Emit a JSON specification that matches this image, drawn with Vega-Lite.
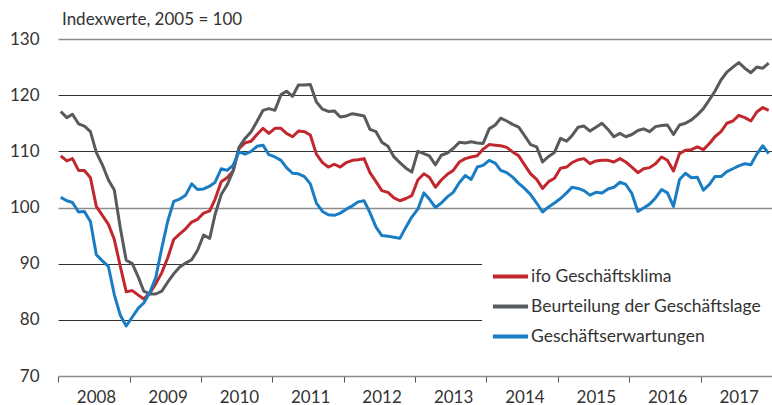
{
  "$schema": "https://vega.github.io/schema/vega-lite/v6.json",
  "width": 714,
  "height": 337,
  "autosize": {"type": "none"},
  "padding": {"left": 58, "top": 39, "right": 0, "bottom": 29},
  "background": "white",
  "config": {"view": {"stroke": null}, "font": "Lato"},
  "title": {"text": "Indexwerte, 2005 = 100", "anchor": "start", "frame": "group", "fontSize": 17, "fontWeight": "normal", "font": "Lato", "color": "#333333", "offset": 1, "dx": 4, "baseline": "top"},
  "data": {"values": [
    {"m":"2008-01-15","k":109.2,"l":117.1,"e":101.8},
    {"m":"2008-02-15","k":108.3,"l":116.0,"e":101.2},
    {"m":"2008-03-15","k":108.7,"l":116.6,"e":100.9},
    {"m":"2008-04-15","k":106.6,"l":114.9,"e":99.2},
    {"m":"2008-05-15","k":106.6,"l":114.5,"e":99.3},
    {"m":"2008-06-15","k":105.3,"l":113.5,"e":97.5},
    {"m":"2008-07-15","k":100.2,"l":109.8,"e":91.6},
    {"m":"2008-08-15","k":98.6,"l":107.6,"e":90.5},
    {"m":"2008-09-15","k":97.0,"l":104.9,"e":89.5},
    {"m":"2008-10-15","k":94.3,"l":103.1,"e":84.5},
    {"m":"2008-11-15","k":89.5,"l":96.3,"e":80.8},
    {"m":"2008-12-15","k":85.0,"l":90.6,"e":78.9},
    {"m":"2009-01-15","k":85.2,"l":90.0,"e":80.5},
    {"m":"2009-02-15","k":84.4,"l":87.6,"e":82.1},
    {"m":"2009-03-15","k":83.7,"l":85.1,"e":83.0},
    {"m":"2009-04-15","k":84.8,"l":84.6,"e":84.9},
    {"m":"2009-05-15","k":86.4,"l":84.6,"e":87.5},
    {"m":"2009-06-15","k":88.4,"l":85.1,"e":92.8},
    {"m":"2009-07-15","k":91.0,"l":86.7,"e":97.5},
    {"m":"2009-08-15","k":94.3,"l":88.2,"e":101.1},
    {"m":"2009-09-15","k":95.3,"l":89.4,"e":101.5},
    {"m":"2009-10-15","k":96.2,"l":90.1,"e":102.2},
    {"m":"2009-11-15","k":97.4,"l":90.7,"e":104.2},
    {"m":"2009-12-15","k":97.9,"l":92.4,"e":103.2},
    {"m":"2010-01-15","k":99.0,"l":95.1,"e":103.3},
    {"m":"2010-02-15","k":99.4,"l":94.5,"e":103.8},
    {"m":"2010-03-15","k":101.5,"l":98.8,"e":104.5},
    {"m":"2010-04-15","k":104.6,"l":102.3,"e":106.9},
    {"m":"2010-05-15","k":105.3,"l":104.0,"e":106.6},
    {"m":"2010-06-15","k":106.5,"l":106.5,"e":107.5},
    {"m":"2010-07-15","k":110.5,"l":110.7,"e":109.9},
    {"m":"2010-08-15","k":111.5,"l":112.3,"e":109.5},
    {"m":"2010-09-15","k":111.8,"l":113.5,"e":110.0},
    {"m":"2010-10-15","k":113.0,"l":115.3,"e":110.9},
    {"m":"2010-11-15","k":114.1,"l":117.3,"e":111.1},
    {"m":"2010-12-15","k":113.2,"l":117.6,"e":109.4},
    {"m":"2011-01-15","k":114.1,"l":117.3,"e":109.0},
    {"m":"2011-02-15","k":114.1,"l":120.1,"e":108.4},
    {"m":"2011-03-15","k":113.2,"l":120.7,"e":107.1},
    {"m":"2011-04-15","k":112.6,"l":119.8,"e":106.1},
    {"m":"2011-05-15","k":113.6,"l":121.8,"e":106.0},
    {"m":"2011-06-15","k":113.5,"l":121.8,"e":105.5},
    {"m":"2011-07-15","k":112.9,"l":121.9,"e":104.2},
    {"m":"2011-08-15","k":109.5,"l":118.8,"e":100.8},
    {"m":"2011-09-15","k":108.0,"l":117.5,"e":99.3},
    {"m":"2011-10-15","k":107.2,"l":117.1,"e":98.7},
    {"m":"2011-11-15","k":107.7,"l":117.2,"e":98.6},
    {"m":"2011-12-15","k":107.2,"l":116.1,"e":99.0},
    {"m":"2012-01-15","k":108.0,"l":116.3,"e":99.7},
    {"m":"2012-02-15","k":108.4,"l":116.7,"e":100.3},
    {"m":"2012-03-15","k":108.5,"l":116.5,"e":101.0},
    {"m":"2012-04-15","k":108.7,"l":116.3,"e":101.2},
    {"m":"2012-05-15","k":106.2,"l":113.9,"e":99.1},
    {"m":"2012-06-15","k":104.6,"l":113.5,"e":96.5},
    {"m":"2012-07-15","k":103.0,"l":111.6,"e":95.0},
    {"m":"2012-08-15","k":102.7,"l":110.9,"e":94.9},
    {"m":"2012-09-15","k":101.7,"l":109.0,"e":94.7},
    {"m":"2012-10-15","k":101.2,"l":108.0,"e":94.5},
    {"m":"2012-11-15","k":101.6,"l":107.0,"e":96.5},
    {"m":"2012-12-15","k":102.1,"l":106.3,"e":98.3},
    {"m":"2013-01-15","k":104.9,"l":110.0,"e":99.7},
    {"m":"2013-02-15","k":106.0,"l":109.6,"e":102.6},
    {"m":"2013-03-15","k":105.4,"l":109.2,"e":101.5},
    {"m":"2013-04-15","k":103.6,"l":107.6,"e":100.0},
    {"m":"2013-05-15","k":104.9,"l":109.3,"e":100.8},
    {"m":"2013-06-15","k":105.9,"l":109.7,"e":101.9},
    {"m":"2013-07-15","k":106.6,"l":110.5,"e":102.7},
    {"m":"2013-08-15","k":108.1,"l":111.6,"e":104.4},
    {"m":"2013-09-15","k":108.7,"l":111.5,"e":105.7},
    {"m":"2013-10-15","k":109.0,"l":111.7,"e":105.0},
    {"m":"2013-11-15","k":109.2,"l":111.5,"e":107.2},
    {"m":"2013-12-15","k":110.4,"l":111.4,"e":107.5},
    {"m":"2014-01-15","k":111.2,"l":114.0,"e":108.4},
    {"m":"2014-02-15","k":111.1,"l":114.7,"e":107.9},
    {"m":"2014-03-15","k":111.0,"l":115.9,"e":106.6},
    {"m":"2014-04-15","k":110.7,"l":115.4,"e":106.2},
    {"m":"2014-05-15","k":109.9,"l":114.8,"e":105.4},
    {"m":"2014-06-15","k":109.2,"l":114.3,"e":104.3},
    {"m":"2014-07-15","k":107.6,"l":112.8,"e":103.4},
    {"m":"2014-08-15","k":106.0,"l":111.2,"e":102.3},
    {"m":"2014-09-15","k":105.0,"l":110.8,"e":100.8},
    {"m":"2014-10-15","k":103.4,"l":108.1,"e":99.2},
    {"m":"2014-11-15","k":104.6,"l":109.1,"e":100.1},
    {"m":"2014-12-15","k":105.2,"l":109.8,"e":100.8},
    {"m":"2015-01-15","k":107.0,"l":112.3,"e":101.6},
    {"m":"2015-02-15","k":107.2,"l":111.8,"e":102.6},
    {"m":"2015-03-15","k":108.0,"l":112.8,"e":103.6},
    {"m":"2015-04-15","k":108.5,"l":114.3,"e":103.4},
    {"m":"2015-05-15","k":108.7,"l":114.5,"e":103.0},
    {"m":"2015-06-15","k":107.8,"l":113.6,"e":102.2},
    {"m":"2015-07-15","k":108.3,"l":114.3,"e":102.7},
    {"m":"2015-08-15","k":108.4,"l":115.0,"e":102.6},
    {"m":"2015-09-15","k":108.4,"l":113.9,"e":103.3},
    {"m":"2015-10-15","k":108.1,"l":112.6,"e":103.6},
    {"m":"2015-11-15","k":108.7,"l":113.2,"e":104.5},
    {"m":"2015-12-15","k":108.1,"l":112.6,"e":104.1},
    {"m":"2016-01-15","k":107.2,"l":113.0,"e":102.5},
    {"m":"2016-02-15","k":106.2,"l":113.7,"e":99.3},
    {"m":"2016-03-15","k":106.9,"l":114.0,"e":99.9},
    {"m":"2016-04-15","k":107.1,"l":113.5,"e":100.6},
    {"m":"2016-05-15","k":107.8,"l":114.4,"e":101.7},
    {"m":"2016-06-15","k":109.0,"l":114.6,"e":103.2},
    {"m":"2016-07-15","k":108.4,"l":114.7,"e":102.6},
    {"m":"2016-08-15","k":106.5,"l":113.0,"e":100.2},
    {"m":"2016-09-15","k":109.6,"l":114.7,"e":105.0},
    {"m":"2016-10-15","k":110.2,"l":115.0,"e":106.1},
    {"m":"2016-11-15","k":110.3,"l":115.6,"e":105.3},
    {"m":"2016-12-15","k":110.8,"l":116.5,"e":105.4},
    {"m":"2017-01-15","k":110.3,"l":117.6,"e":103.1},
    {"m":"2017-02-15","k":111.4,"l":119.2,"e":104.1},
    {"m":"2017-03-15","k":112.6,"l":120.7,"e":105.5},
    {"m":"2017-04-15","k":113.5,"l":122.7,"e":105.5},
    {"m":"2017-05-15","k":115.0,"l":124.1,"e":106.4},
    {"m":"2017-06-15","k":115.4,"l":125.0,"e":106.9},
    {"m":"2017-07-15","k":116.4,"l":125.8,"e":107.4},
    {"m":"2017-08-15","k":116.0,"l":124.8,"e":107.8},
    {"m":"2017-09-15","k":115.4,"l":124.0,"e":107.6},
    {"m":"2017-10-15","k":117.0,"l":125.0,"e":109.5},
    {"m":"2017-11-15","k":117.8,"l":124.8,"e":111.0},
    {"m":"2017-12-15","k":117.3,"l":125.7,"e":109.6}
  ]},
  "transform": [{"fold": ["k", "l", "e"], "as": ["key", "v"]}],
  "mark": {"type": "line", "strokeWidth": 3, "strokeJoin": "round", "clip": false},
  "encoding": {
    "x": {
      "field": "m", "type": "temporal",
      "scale": {"type": "utc", "domain": [{"year": 2008, "month": 1, "date": 1, "utc": true}, {"year": 2018, "month": 1, "date": 1, "utc": true}]},
      "axis": {
        "title": null, "grid": false,
        "values": [
          {"year": 2008, "month": 1, "date": 1, "utc": true},
          {"year": 2009, "month": 1, "date": 1, "utc": true},
          {"year": 2010, "month": 1, "date": 1, "utc": true},
          {"year": 2011, "month": 1, "date": 1, "utc": true},
          {"year": 2012, "month": 1, "date": 1, "utc": true},
          {"year": 2013, "month": 1, "date": 1, "utc": true},
          {"year": 2014, "month": 1, "date": 1, "utc": true},
          {"year": 2015, "month": 1, "date": 1, "utc": true},
          {"year": 2016, "month": 1, "date": 1, "utc": true},
          {"year": 2017, "month": 1, "date": 1, "utc": true}
        ],
        "format": "%Y", "formatType": "utc",
        "labelOffset": 38, "labelAlign": "center", "labelFontSize": 17, "labelFont": "Lato", "labelColor": "#333333", "labelPadding": 7,
        "labelFlush": false, "labelOverlap": false,
        "domainColor": "#8c8c8c", "domainWidth": 1.5,
        "tickColor": "#555555", "tickSize": 6, "tickWidth": 1
      }
    },
    "y": {
      "field": "v", "type": "quantitative",
      "scale": {"domain": [70, 130], "nice": false, "zero": false},
      "axis": {
        "title": null, "values": [70, 80, 90, 100, 110, 120, 130],
        "domain": false, "ticks": false,
        "labelFontSize": 17, "labelFont": "Lato", "labelColor": "#333333", "labelPadding": 19,
        "grid": true,
        "gridColor": {"condition": {"test": "datum.value === 100 || datum.value === 130", "value": "#8c8c8c"}, "value": "#333333"},
        "gridWidth": {"condition": {"test": "datum.value === 100 || datum.value === 130", "value": 1.6}, "value": 1},
        "gridOpacity": {"condition": {"test": "datum.value === 70", "value": 0}, "value": 1}
      }
    },
    "color": {
      "field": "key", "type": "nominal",
      "scale": {"domain": ["k", "l", "e"], "range": ["#c1272d", "#575b5d", "#1a7dc4"]},
      "legend": {
        "orient": "none", "legendX": 424, "legendY": 209,
        "title": null, "fillColor": "white", "padding": 11.5,
        "symbolType": "M-1.17,0H1.17", "symbolSize": 900, "symbolStrokeWidth": 4,
        "labelFontSize": 17.5, "labelFont": "Lato", "labelColor": "#333333", "labelOffset": 3.5, "labelLimit": 400,
        "rowPadding": 4,
        "labelExpr": "datum.label === 'k' ? 'ifo Geschäftsklima' : datum.label === 'l' ? 'Beurteilung der Geschäftslage' : 'Geschäftserwartungen'"
      }
    }
  }
}
